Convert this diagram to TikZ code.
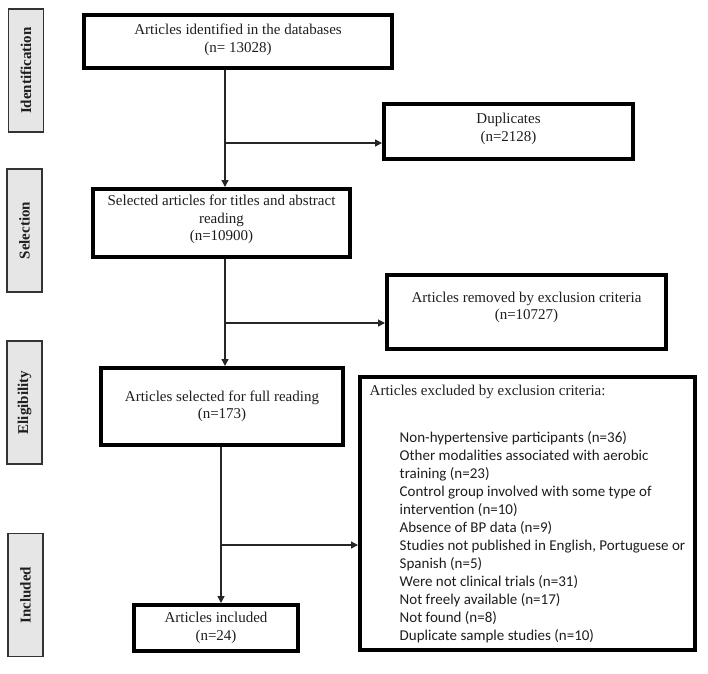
\documentclass[tikz,border=0pt]{standalone}
\usepackage{fontspec}
\setmainfont{Liberation Serif}
\newfontfamily\listfont{Carlito}
\usetikzlibrary{arrows.meta}
\definecolor{sidefill}{HTML}{E6E6E6}
\definecolor{txt}{HTML}{1E1E1E}
\newcommand\critline[1]{\listfont\hspace*{30pt}#1}
\tikzset{
  flowbox/.style={draw=black, line width=4pt, fill=white, align=center, text=txt,
    inner sep=2pt, font=\fontsize{15}{17.5}\selectfont},
  sidebox/.style={draw=black!80, line width=1.3pt, fill=sidefill, text=txt,
    minimum width=35pt, minimum height=123pt, inner sep=0pt},
  sidetext/.style={rotate=90, font=\fontsize{15}{17}\selectfont\bfseries, text=txt},
  conn/.style={line width=1.3pt, draw=black!85},
  arr/.style={conn, -{Triangle[length=7pt,width=7pt]}}
}
\begin{document}
\begin{tikzpicture}[x=1pt,y=-1pt]
\useasboundingbox (0,0) rectangle (708,673);

% phase labels
\node[sidebox] (sid) at (26,70.5) {};
\node[sidetext] (sidt) at (sid.center) {Identification};
\node[sidebox] (ssel) at (24.5,230.5) {};
\node[sidetext] (sselt) at (ssel.center) {Selection};
\node[sidebox] (sel) at (24.5,402.5) {};
\node[sidetext] (selt) at (sel.center) {Eligibility};
\node[sidebox] (sinc) at (25.5,595) {};
\node[sidetext] (sinct) at (sinc.center) {Included};

% boxes
\node[flowbox, minimum width=308pt, minimum height=53pt] (b1) at (238,41.5)
  {Articles identified in the databases\\(n= 13028)\\[-10.5pt]};
\node[flowbox, minimum width=249pt, minimum height=55pt] (b2) at (508.5,131.5)
  {Duplicates\\(n=2128)\\[-9pt]};
\node[flowbox, minimum width=257pt, minimum height=68pt] (b3) at (221.5,223)
  {Selected articles for titles and abstract\\reading\\(n=10900)\\[-7pt]};
\node[flowbox, minimum width=279pt, minimum height=74pt] (b4) at (526.5,312)
  {Articles removed by exclusion criteria\\(n=10727)\\[-5pt]};
\node[flowbox, minimum width=242pt, minimum height=77pt] (b5) at (222,406.5)
  {Articles selected for full reading\\(n=173)};
\node[flowbox, minimum width=164pt, minimum height=46pt] (b7) at (216,628)
  {Articles included\\(n=24)};
\node[flowbox, align=left, minimum width=335pt, minimum height=273pt,
      font=\fontsize{15}{18}\selectfont] (b6) at (527.5,513.5)
  {Articles excluded by exclusion criteria:\\[29pt]
   \critline{Non-hypertensive participants (n=36)}\\
   \critline{Other modalities associated with aerobic}\\
   \critline{training (n=23)}\\
   \critline{Control group involved with some type of}\\
   \critline{intervention (n=10)}\\
   \critline{Absence of BP data (n=9)}\\
   \critline{Studies not published in English, Portuguese or}\\
   \critline{Spanish (n=5)}\\
   \critline{Were not clinical trials (n=31)}\\
   \critline{Not freely available (n=17)}\\
   \critline{Not found (n=8)}\\
   \critline{Duplicate sample studies (n=10)}};

% junctions
\coordinate (j1) at (225,143);
\coordinate (j2) at (225,323);
\coordinate (j3) at (221,545);

% connectors
\draw[arr] (b1.south -| j1) -- (b3.north -| j1);
\draw[arr] (j1) -- (j1 -| b2.west);
\draw[arr] (b3.south -| j2) -- (b5.north -| j2);
\draw[arr] (j2) -- (j2 -| b4.west);
\draw[arr] (b5.south -| j3) -- (b7.north -| j3);
\draw[arr] (j3) -- (j3 -| b6.west);
\end{tikzpicture}
\end{document}
